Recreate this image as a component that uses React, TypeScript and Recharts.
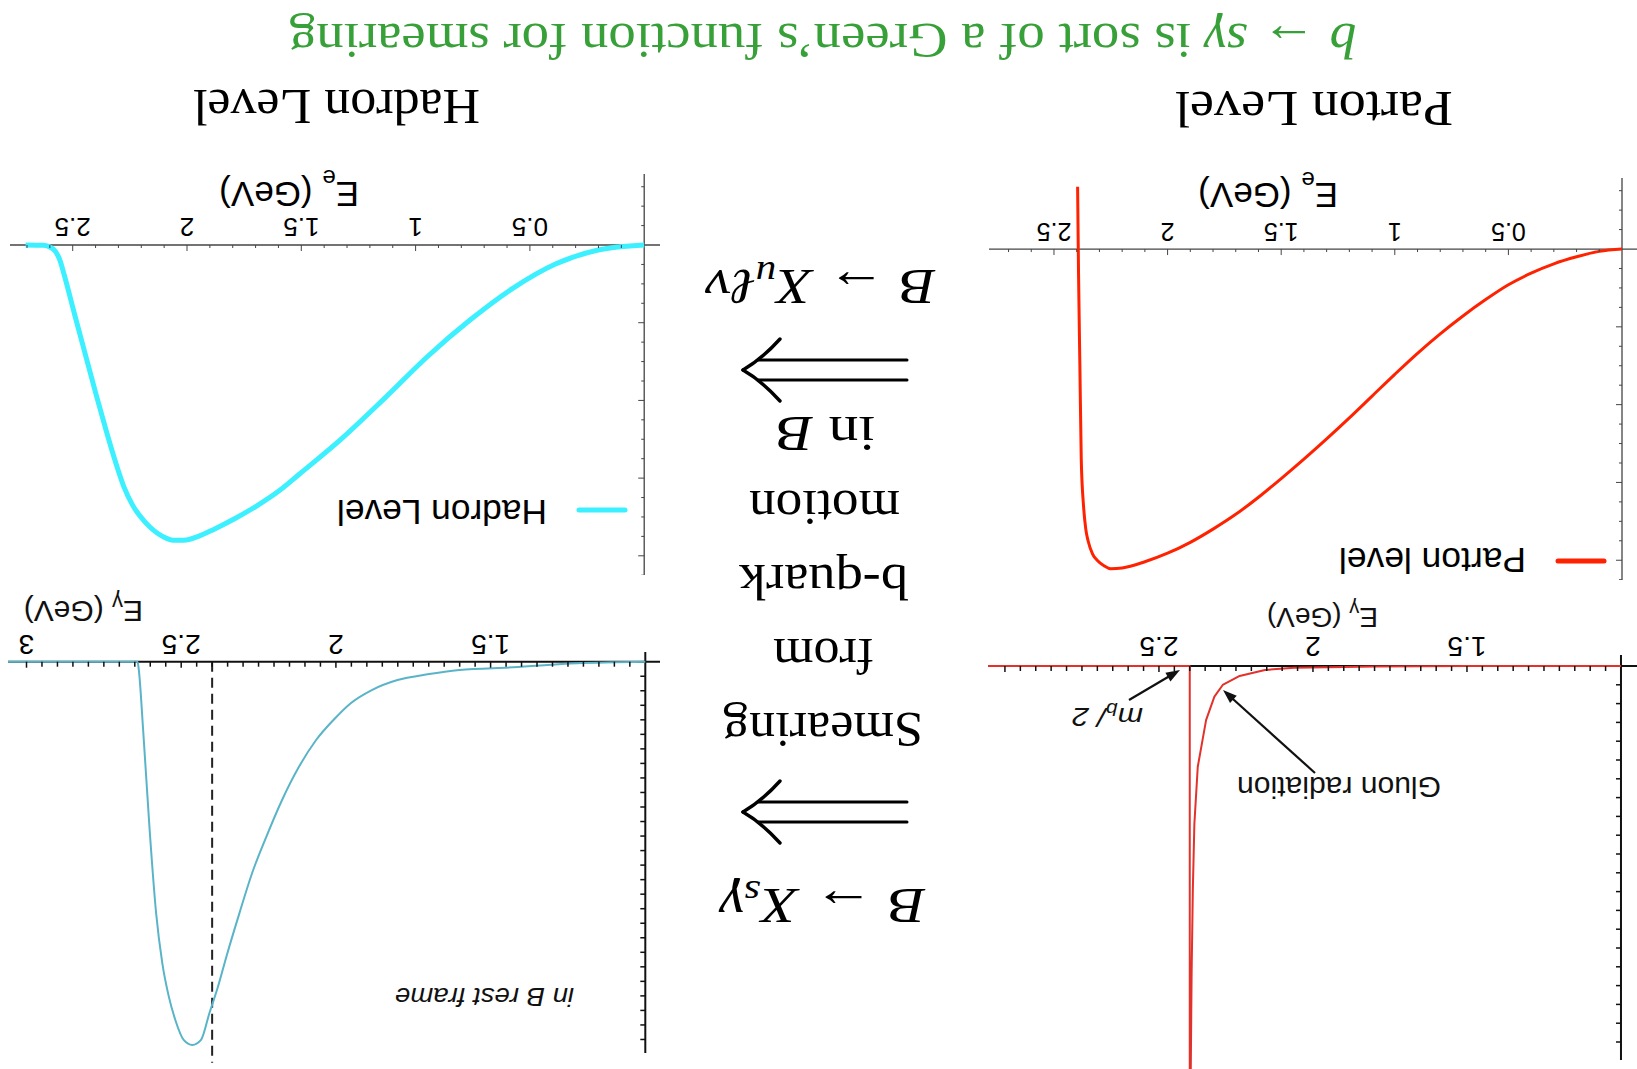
import React from 'react';
import { LineChart, Line, XAxis, YAxis, ReferenceLine, ReferenceDot } from 'recharts';

const SERIF = "'Liberation Serif', 'Times New Roman', serif";
const SANS = "'Liberation Sans', Arial, Helvetica, sans-serif";
const GREEN = '#38a038';

// B -> X_u l nu electron spectrum, parton level (E_e in GeV, arbitrary units)
const partonElectronE = [0, 0.1, 0.2, 0.3, 0.4, 0.5, 0.6, 0.7, 0.8, 0.9, 1.0, 1.1, 1.2, 1.3, 1.4, 1.5, 1.6, 1.7, 1.8, 1.9, 2.0, 2.1, 2.2, 2.25, 2.28, 2.31, 2.33, 2.35, 2.36, 2.37, 2.38, 2.386, 2.392, 2.396];
const partonElectronRate = [0, 0.03, 0.1, 0.19, 0.31, 0.46, 0.65, 0.86, 1.09, 1.34, 1.61, 1.89, 2.17, 2.44, 2.7, 2.95, 3.19, 3.41, 3.6, 3.77, 3.91, 4.02, 4.1, 4.11, 4.07, 4.0, 3.92, 3.75, 3.6, 3.3, 2.7, 1.5, 0.3, -0.8];

// electron spectrum after Fermi-motion smearing, hadron level
const hadronElectronE = [0, 0.201, 0.388, 0.575, 0.762, 0.949, 1.136, 1.322, 1.509, 1.6, 1.696, 1.79, 1.883, 1.95, 2.014, 2.06, 2.107, 2.182, 2.238, 2.276, 2.313, 2.35, 2.397, 2.444, 2.491, 2.537, 2.556, 2.575, 2.603, 2.631, 2.706];
const hadronElectronRate = [0, 0.064, 0.245, 0.558, 0.966, 1.438, 1.974, 2.489, 2.95, 3.17, 3.36, 3.52, 3.66, 3.75, 3.8, 3.8, 3.75, 3.57, 3.348, 3.112, 2.79, 2.425, 1.931, 1.416, 0.901, 0.386, 0.193, 0.086, 0.021, 0.004, 0];

// b -> s gamma photon spectrum, parton level: spike at m_b/2 plus gluon radiation tail
const partonPhotonE = [1.0, 1.5, 1.8, 1.898, 2.061, 2.156, 2.238, 2.293, 2.32, 2.347, 2.374, 2.385, 2.39, 2.394, 2.398, 2.4, 2.4, 3.055];
const partonPhotonRate = [0, 0, 0.02, 0.05, 0.09, 0.21, 0.53, 1.01, 1.63, 2.88, 5.36, 8.4, 11.9, 16.4, 24, 24, 0, 0];

// photon spectrum in the B rest frame, hadron level
const hadronPhotonE = [1.0, 1.221, 1.428, 1.601, 1.704, 1.801, 1.884, 1.953, 2.008, 2.064, 2.119, 2.174, 2.229, 2.271, 2.312, 2.354, 2.381, 2.409, 2.436, 2.464, 2.492, 2.519, 2.54, 2.561, 2.581, 2.602, 2.623, 2.637, 2.641, 3.06];
const hadronPhotonRate = [0, 0.11, 0.39, 0.57, 0.87, 1.26, 1.95, 2.87, 4.01, 5.39, 7.22, 9.52, 12.27, 14.56, 17.32, 20.3, 22.36, 24.2, 26.03, 26.38, 26.03, 24.66, 23.05, 20.76, 17.32, 11.58, 4.7, 0.57, 0, 0];

const electronTickValues = [0.5, 1, 1.5, 2, 2.5];
const electronTickLabels = ['0.5', '1', '1.5', '2', '2.5'];
const partonPhotonTickValues = [1.5, 2, 2.5];
const partonPhotonTickLabels = ['1.5', '2', '2.5'];
const hadronPhotonTickValues = [1.5, 2, 2.5, 3];
const hadronPhotonTickLabels = ['1.5', '2', '2.5', '3'];

const MB_HALF = 2.4;

type Pt = { E: number; v: number };
const zip = (e: number[], v: number[]): Pt[] => e.map((x, i) => ({ E: x, v: v[i] }));

function steps(from: number, to: number, step: number, skipZero = false): number[] {
  const out: number[] = [];
  const n = Math.round((to - from) / step);
  for (let i = 0; i <= n; i++) {
    const t = +(from + i * step).toFixed(4);
    if (skipZero && Math.abs(t) < 1e-9) continue;
    out.push(t);
  }
  return out;
}
const onHalf = (t: number) => Math.abs(t * 2 - Math.round(t * 2)) < 1e-6;
const onUnit = (t: number) => Math.abs(t - Math.round(t)) < 1e-6;

interface PanelProps {
  left: number; top: number; width: number; height: number;
  data: Pt[]; xDomain: [number, number]; yDomain: [number, number];
  origin: number; vAxis?: [number, number];
  color: string; lineWidth: number; curve: 'monotone' | 'linear';
  axisColor: string; axisWidth: number;
  xTicks: number[]; yTicks: number[];
  isXMajor: (t: number) => boolean; isYMajor: (t: number) => boolean;
  minorLen: number; majorLen: number; tickWidth: number;
  labelValues: number[]; labels: string[]; labelSize: number; labelDrop: number;
  extra?: React.ReactNode;
}

function Panel(p: PanelProps) {
  return (
    <div style={{ position: 'absolute', left: p.left, top: p.top, width: p.width, height: p.height }}>
      <LineChart width={p.width} height={p.height} data={p.data} margin={{ top: 0, right: 0, bottom: 0, left: 0 }}>
        <XAxis type="number" dataKey="E" domain={p.xDomain} hide allowDataOverflow />
        <YAxis type="number" domain={p.yDomain} hide allowDataOverflow />
        <ReferenceLine y={0} stroke={p.axisColor} strokeWidth={p.axisWidth} ifOverflow="visible" />
        {p.vAxis ? (
          <ReferenceLine
            segment={[{ x: p.origin, y: p.vAxis[0] }, { x: p.origin, y: p.vAxis[1] }]}
            stroke={p.axisColor}
            strokeWidth={p.axisWidth}
            ifOverflow="visible"
          />
        ) : (
          <ReferenceLine x={p.origin} stroke={p.axisColor} strokeWidth={p.axisWidth} ifOverflow="visible" />
        )}
        {p.xTicks.map((t) => (
          <ReferenceDot
            key={'xt' + t}
            x={t}
            y={0}
            r={1}
            ifOverflow="visible"
            shape={(s: any) => (
              <line x1={s.cx} y1={s.cy} x2={s.cx} y2={s.cy - (p.isXMajor(t) ? p.majorLen : p.minorLen)} stroke={p.axisColor} strokeWidth={p.tickWidth} />
            )}
          />
        ))}
        {p.yTicks.map((t) => (
          <ReferenceDot
            key={'yt' + t}
            x={p.origin}
            y={t}
            r={1}
            ifOverflow="visible"
            shape={(s: any) => (
              <line x1={s.cx} y1={s.cy} x2={s.cx + (p.isYMajor(t) ? p.majorLen : p.minorLen)} y2={s.cy} stroke={p.axisColor} strokeWidth={p.tickWidth} />
            )}
          />
        ))}
        {p.labelValues.map((t, i) => (
          <ReferenceDot
            key={'xl' + t}
            x={t}
            y={0}
            r={1}
            ifOverflow="visible"
            shape={(s: any) => (
              <text x={s.cx} y={s.cy + p.labelDrop} textAnchor="middle" fontFamily={SANS} fontSize={p.labelSize} fill="#000">
                {p.labels[i]}
              </text>
            )}
          />
        ))}
        {p.extra}
        <Line
          type={p.curve}
          dataKey="v"
          stroke={p.color}
          strokeWidth={p.lineWidth}
          dot={false}
          activeDot={false}
          isAnimationActive={false}
          strokeLinejoin="round"
        />
      </LineChart>
    </div>
  );
}

function arrowHead(x1: number, y1: number, x2: number, y2: number, len = 14, half = 5) {
  const dx = x2 - x1;
  const dy = y2 - y1;
  const d = Math.hypot(dx, dy);
  const ux = dx / d;
  const uy = dy / d;
  const bx = x2 - ux * len;
  const by = y2 - uy * len;
  return `${x2},${y2} ${bx - uy * half},${by + ux * half} ${bx + uy * half},${by - ux * half}`;
}

function Pointer({ x1, y1, x2, y2 }: { x1: number; y1: number; x2: number; y2: number }) {
  const d = Math.hypot(x2 - x1, y2 - y1);
  const k = (d - 10) / d;
  return (
    <g>
      <line x1={x1} y1={y1} x2={x1 + (x2 - x1) * k} y2={y1 + (y2 - y1) * k} stroke="#111" strokeWidth={2.2} />
      <polygon points={arrowHead(x1, y1, x2, y2)} fill="#111" />
    </g>
  );
}

// long double arrow pointing right (implies)
function Implies({ cy }: { cy: number }) {
  const tail = 730;
  const tip = 894;
  const back = 857;
  const gap = 10;
  const half = 31;
  return (
    <g fill="none" stroke="#000" strokeLinecap="round">
      <line x1={tail} y1={cy - gap} x2={879} y2={cy - gap} strokeWidth={3} />
      <line x1={tail} y1={cy + gap} x2={879} y2={cy + gap} strokeWidth={3} />
      <path d={`M ${back} ${cy - half} C ${back + 9} ${cy - 21}, ${back + 23} ${cy - 8}, ${tip} ${cy}`} strokeWidth={3.4} />
      <path d={`M ${back} ${cy + half} C ${back + 9} ${cy + 21}, ${back + 23} ${cy + 8}, ${tip} ${cy}`} strokeWidth={3.4} />
    </g>
  );
}

export default function App() {
  const partonElectron = zip(partonElectronE, partonElectronRate);
  const hadronElectron = zip(hadronElectronE, hadronElectronRate);
  const partonPhoton = zip(partonPhotonE, partonPhotonRate);
  const hadronPhoton = zip(hadronPhotonE, hadronPhotonRate);

  const eXTicks = steps(0.1, 2.7, 0.1);
  const eYTicks = steps(-0.75, 4.25, 0.25, true);
  const gXTicks = steps(1.05, 3.0, 0.05);

  return (
    <div
      style={{
        position: 'absolute',
        left: 0,
        top: 0,
        width: 1637,
        height: 1069,
        background: '#fff',
        transform: 'rotate(180deg)',
        overflow: 'hidden',
      }}
    >
      {/* photon spectrum, parton level */}
      <Panel
        left={0} top={0} width={649} height={440}
        data={partonPhoton} xDomain={[0.948, 3.055]} yDomain={[-1.968, 21.436]}
        origin={1.0} vAxis={[-0.585, 20.96]}
        color="#e3312b" lineWidth={2} curve="linear"
        axisColor="#111" axisWidth={2}
        xTicks={gXTicks} yTicks={steps(1, 20, 1)}
        isXMajor={onHalf} isYMajor={() => false}
        minorLen={5} majorLen={6} tickWidth={1.5}
        labelValues={partonPhotonTickValues} labels={partonPhotonTickLabels} labelSize={28} labelDrop={29}
      />
      {/* photon spectrum, hadron level */}
      <Panel
        left={977} top={5} width={652} height={435}
        data={hadronPhoton} xDomain={[0.9525, 3.0598]} yDomain={[-2.2505, 27.688]}
        origin={1.0} vAxis={[-0.667, 26.93]}
        color="#5ab4c8" lineWidth={2} curve="monotone"
        axisColor="#111" axisWidth={2}
        xTicks={gXTicks} yTicks={steps(1, 26, 1)}
        isXMajor={onHalf} isYMajor={() => false}
        minorLen={5} majorLen={6} tickWidth={1.5}
        labelValues={hadronPhotonTickValues} labels={hadronPhotonTickLabels} labelSize={28} labelDrop={27}
        extra={
          <ReferenceLine
            segment={[{ x: MB_HALF, y: 0 }, { x: MB_HALF, y: 27.6 }]}
            stroke="#222"
            strokeWidth={2}
            strokeDasharray="10 6"
            ifOverflow="visible"
          />
        }
      />
      {/* electron spectrum, parton level */}
      <Panel
        left={0} top={489} width={648} height={402}
        data={partonElectron} xDomain={[-0.066, 2.786]} yDomain={[-0.913, 4.254]}
        origin={0}
        color="#ff2200" lineWidth={3} curve="monotone"
        axisColor="#444" axisWidth={1.3}
        xTicks={eXTicks} yTicks={eYTicks}
        isXMajor={onHalf} isYMajor={onUnit}
        minorLen={3} majorLen={6} tickWidth={1}
        labelValues={electronTickValues} labels={electronTickLabels} labelSize={25} labelDrop={26}
      />
      {/* electron spectrum, hadron level */}
      <Panel
        left={977} top={494} width={650} height={401}
        data={hadronElectron} xDomain={[-0.0691, 2.7743]} yDomain={[-0.914, 4.247]}
        origin={0}
        color="#3cf0ff" lineWidth={5} curve="monotone"
        axisColor="#444" axisWidth={1.3}
        xTicks={eXTicks} yTicks={eYTicks}
        isXMajor={onHalf} isYMajor={onUnit}
        minorLen={3} majorLen={6} tickWidth={1}
        labelValues={electronTickValues} labels={electronTickLabels} labelSize={26} labelDrop={27}
      />

      <svg width={1637} height={1069} style={{ position: 'absolute', left: 0, top: 0, pointerEvents: 'none' }}>
        {/* panel annotations: photon spectra */}
        <text x={259} y={461} fontFamily={SANS} fontSize={28} fill="#111">
          E<tspan fontSize={20} dy={6}>γ</tspan><tspan dy={-6}> (GeV)</tspan>
        </text>
        <text x={1494} y={468} fontFamily={SANS} fontSize={30} fill="#111">
          E<tspan fontSize={22} dy={6}>γ</tspan><tspan dy={-6}> (GeV)</tspan>
        </text>
        <text x={494} y={361} fontFamily={SANS} fontSize={26} fontStyle="italic" fill="#111" textLength={71} lengthAdjust="spacingAndGlyphs">
          m<tspan fontSize={18} dy={5}>b</tspan><tspan dy={-5}>/ 2</tspan>
        </text>
        <Pointer x1={508} y1={369} x2={457} y2={399} />
        <text x={196} y={292} fontFamily={SANS} fontSize={30} fill="#111" textLength={204} lengthAdjust="spacingAndGlyphs">
          Gluon radiation
        </text>
        <Pointer x1={322} y1={296} x2={414} y2={379} />
        <text x={1063} y={81} fontFamily={SANS} fontSize={26} fontStyle="italic" fill="#111" textLength={179} lengthAdjust="spacingAndGlyphs">
          in B rest frame
        </text>

        {/* panel annotations: electron spectra */}
        <text x={299} y={886} fontFamily={SANS} fontSize={35} fill="#000">
          E<tspan fontSize={24} dy={11}>e</tspan><tspan dy={-11}> (GeV)</tspan>
        </text>
        <text x={1278} y={887} fontFamily={SANS} fontSize={35} fill="#000">
          E<tspan fontSize={24} dy={12}>e</tspan><tspan dy={-12}> (GeV)</tspan>
        </text>
        <line x1={33} y1={508} x2={79} y2={508} stroke="#ff2200" strokeWidth={5} strokeLinecap="round" />
        <text x={111} y={521} fontFamily={SANS} fontSize={35} fill="#000" textLength={187} lengthAdjust="spacingAndGlyphs">
          Parton level
        </text>
        <line x1={1012} y1={559} x2={1058} y2={559} stroke="#3cf0ff" strokeWidth={5} strokeLinecap="round" />
        <text x={1090} y={569} fontFamily={SANS} fontSize={35} fill="#000" textLength={210} lengthAdjust="spacingAndGlyphs">
          Hadron Level
        </text>

        {/* middle column */}
        <g fontFamily={SERIF} fontSize={50} fill="#000">
          <text x={711} y={180} textLength={206} lengthAdjust="spacingAndGlyphs">
            <tspan fontStyle="italic">B</tspan>{' → '}<tspan fontStyle="italic">X</tspan>
            <tspan fontStyle="italic" fontSize={35} dy={8}>s</tspan>
            <tspan fontStyle="italic" dy={-8}>γ</tspan>
          </text>
          <Implies cy={257} />
          <text x={714} y={356} textLength={200} lengthAdjust="spacingAndGlyphs">Smearing</text>
          <text x={763} y={430} textLength={101} lengthAdjust="spacingAndGlyphs">from</text>
          <text x={729} y={504} textLength={169} lengthAdjust="spacingAndGlyphs">b-quark</text>
          <text x={737} y={578} textLength={151} lengthAdjust="spacingAndGlyphs">motion</text>
          <text x={762} y={652} textLength={98} lengthAdjust="spacingAndGlyphs">
            in <tspan fontStyle="italic">B</tspan>
          </text>
          <Implies cy={699} />
          <text x={701} y={799} textLength={231} lengthAdjust="spacingAndGlyphs">
            <tspan fontStyle="italic">B</tspan>{' → '}<tspan fontStyle="italic">X</tspan>
            <tspan fontStyle="italic" fontSize={35} dy={8}>u</tspan>
            <tspan fontStyle="italic" dy={-8}>ℓν</tspan>
          </text>
        </g>

        {/* column headings and caption */}
        <text x={184} y={977} fontFamily={SERIF} fontSize={50} fill="#000" textLength={278} lengthAdjust="spacingAndGlyphs">
          Parton Level
        </text>
        <text x={1157} y={979} fontFamily={SERIF} fontSize={50} fill="#000" textLength={287} lengthAdjust="spacingAndGlyphs">
          Hadron Level
        </text>
        <text x={280} y={1045} fontFamily={SERIF} fontSize={50} fill={GREEN} textLength={1068} lengthAdjust="spacingAndGlyphs">
          <tspan fontStyle="italic">b</tspan>{' → '}<tspan fontStyle="italic">sγ</tspan>
          {' is sort of a Green’s function for smearing'}
        </text>
      </svg>
    </div>
  );
}
